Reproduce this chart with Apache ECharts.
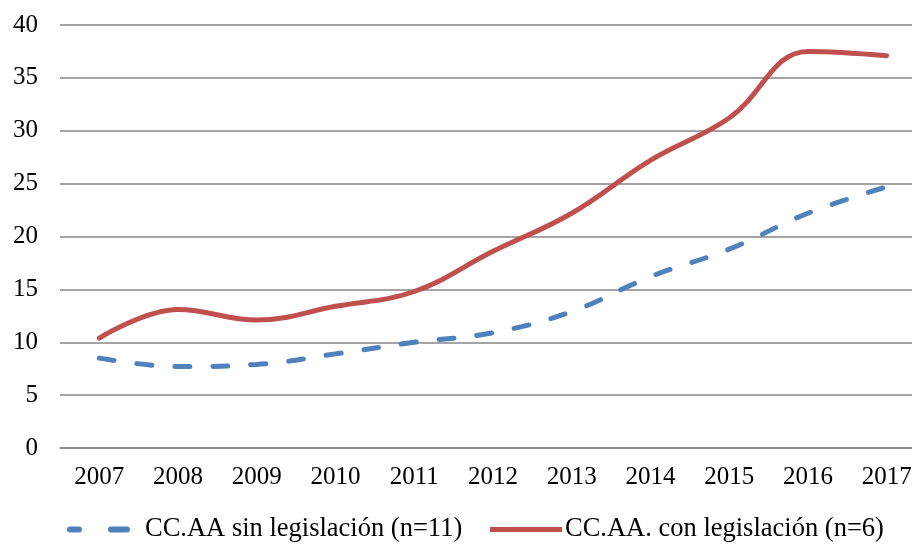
<!DOCTYPE html>
<html>
<head>
<meta charset="utf-8">
<script src="https://cdn.jsdelivr.net/npm/echarts@6/dist/echarts.min.js"></script>
<style>
  html, body { margin: 0; padding: 0; background: #fff; }
  #chart { width: 912px; height: 547px; }
</style>
</head>
<body>
<div id="chart"></div>
<script>
// años
var years = ["2007", "2008", "2009", "2010", "2011", "2012", "2013", "2014", "2015", "2016", "2017"];
// CC.AA sin legislación (n=11)
var sinLegislacion = [8.5, 7.7, 7.9, 8.9, 10.0, 10.9, 12.9, 16.2, 18.8, 22.2, 24.7];
// CC.AA. con legislación (n=6)
var conLegislacion = [10.4, 13.1, 12.1, 13.4, 14.8, 18.6, 22.2, 27.2, 31.2, 37.5, 37.1];

var font = "Liberation Serif, Times New Roman, serif";
var azul = "#4F81BD";
var rojo = "#C0504D";

// icono de leyenda: dos trazos redondeados
var iconoDiscontinuo = "path://M3,0H12A3,3 0 0 1 12,6H3A3,3 0 0 1 3,0ZM44,0H60A3,3 0 0 1 60,6H44A3,3 0 0 1 44,0Z";

var chart = echarts.init(document.getElementById("chart"));
chart.setOption({
  animation: false,
  grid: {
    left: 60,
    width: 866,
    top: 25,
    bottom: 99,
    containLabel: false,
    outerBoundsMode: "none"
  },
  legend: [
    {
      left: 67,
      top: 516,
      padding: 0,
      itemWidth: 63,
      itemHeight: 6,
      icon: iconoDiscontinuo,
      itemStyle: { color: azul, borderColor: azul, borderWidth: 0, borderType: "solid" },
      textStyle: { fontFamily: font, fontSize: 26.5, color: "#000", padding: [0, 0, 0, 10] },
      data: ["CC.AA sin legislación (n=11)"]
    },
    {
      left: 490,
      top: 516,
      padding: 0,
      itemWidth: 72,
      itemHeight: 5,
      icon: "rect",
      itemStyle: { color: rojo, borderColor: rojo, borderWidth: 0, borderType: "solid" },
      textStyle: { fontFamily: font, fontSize: 26.5, color: "#000", padding: [0, 0, 0, -2] },
      data: ["CC.AA. con legislación (n=6)"]
    }
  ],
  xAxis: {
    type: "category",
    data: years,
    boundaryGap: true,
    axisLine: { lineStyle: { color: "#868686", width: 1.5 } },
    axisTick: { show: false },
    axisLabel: { fontFamily: font, fontSize: 25, color: "#000", margin: 17 }
  },
  yAxis: {
    type: "value",
    min: 0,
    max: 40,
    interval: 5,
    axisLine: { show: false },
    axisTick: { show: false },
    axisLabel: { fontFamily: font, fontSize: 25, color: "#000", margin: 22 },
    splitLine: { lineStyle: { color: "#868686", width: 1.5 } }
  },
  series: [
    {
      name: "CC.AA sin legislación (n=11)",
      type: "line",
      data: sinLegislacion,
      smooth: 0.4,
      symbol: "none",
      lineStyle: { color: azul, width: 5, type: [15, 23], cap: "round" },
      itemStyle: { color: azul }
    },
    {
      name: "CC.AA. con legislación (n=6)",
      type: "line",
      data: conLegislacion,
      smooth: 0.4,
      symbol: "none",
      lineStyle: { color: rojo, width: 5, cap: "round" },
      itemStyle: { color: rojo }
    }
  ]
});
</script>
</body>
</html>
